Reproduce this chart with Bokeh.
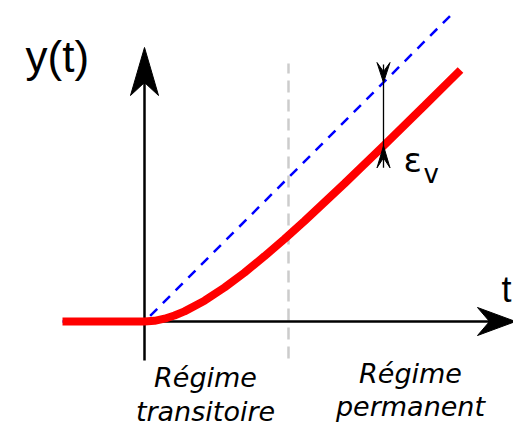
from bokeh.plotting import figure
from bokeh.models import Range1d, Label
from bokeh.embed import file_html
from bokeh.resources import INLINE
import numpy as np

# ---- data (units: t horizontal, y vertical; origin at axes crossing) ----
ramp_t = [-82, 0, 308]
ramp_y = [0, 0, 308]

resp_t = [-82, 0, 10, 20, 30, 40, 60, 80, 100, 120, 140, 160, 200, 240, 280, 316]
resp_y = [0, 0, 0.7, 2.8, 6.0, 10.1, 20.8, 34.0, 48.9, 65.3, 82.5, 100.5, 138.0, 176.6, 215.9, 251.5]

t_boundary = 144          # separation transitoire / permanent
boundary_y = [-37, 258]
t_err = 239               # position of the epsilon_v marker
y_axis_extent = [-39, 274]
t_axis_extent = [-1, 371]

labels_transitoire = ["Régime", "transitoire"]
labels_permanent = ["Régime", "permanent"]

p = figure(width=513, height=427, x_range=Range1d(-144, 369), y_range=Range1d(-106, 321),
           output_backend="svg", toolbar_location=None, min_border=0,
           x_axis_location=None, y_axis_location=None)
p.grid.visible = False
p.outline_line_color = None
p.background_fill_color = "white"
p.border_fill_color = "white"


def stealth(tx, ty, dx, dy, length, half_w, notch):
    # tip at (tx,ty), direction (dx,dy) unit vector pointing from base to tip
    nx, ny = -dy, dx
    bx, by = tx - dx * length, ty - dy * length
    cx, cy = tx - dx * notch, ty - dy * notch
    xs = [tx, bx + nx * half_w, cx, bx - nx * half_w]
    ys = [ty, by + ny * half_w, cy, by - ny * half_w]
    return xs, ys


# boundary between regimes
p.line([t_boundary, t_boundary], boundary_y, line_color="#cccccc", line_width=2.5, line_dash="12 7")

# axes
p.line([0, 0], [y_axis_extent[0], y_axis_extent[1] - 30], line_color="black", line_width=2.5)
p.line([t_axis_extent[0], t_axis_extent[1] - 25], [0, 0], line_color="black", line_width=2.5)
xs, ys = stealth(0, y_axis_extent[1], 0, 1, 48, 14, 35)
p.patch(xs, ys, fill_color="black", line_color="black", line_width=1)
xs, ys = stealth(t_axis_extent[1], 0, 1, 0, 38, 14, 26)
p.patch(xs, ys, fill_color="black", line_color="black", line_width=1)

# input ramp and response
p.line(ramp_t, ramp_y, line_color="#0000ff", line_width=2.5, line_dash="10 8")
p.line(resp_t, resp_y, line_color="#ff0000", line_width=8, line_cap="butt")

# epsilon_v marker
y_top = float(np.interp(t_err, ramp_t, ramp_y))
y_bot = float(np.interp(t_err, resp_t, resp_y))
p.line([t_err, t_err], [y_top + 18, y_bot - 22], line_color="black", line_width=1.3)
xs, ys = stealth(t_err, y_top, 0, -1, 20, 6.5, 11)
p.patch(xs, ys, fill_color="black", line_color="black", line_width=1)
xs, ys = stealth(t_err, y_bot, 0, 1, 22, 6.5, 12)
p.patch(xs, ys, fill_color="black", line_color="black", line_width=1)

# texts
p.add_layout(Label(x=-119, y=265, text="y(t)", text_font="Liberation Sans", text_font_size="44px",
                   text_color="black", text_baseline="alphabetic", text_align="left"))
p.add_layout(Label(x=357, y=32, text="t", text_font="Liberation Sans", text_font_size="36px",
                   text_color="black", text_baseline="alphabetic", text_align="left"))
p.add_layout(Label(x=259, y=162, text="ε", text_font="DejaVu Sans", text_font_size="34px",
                   text_color="black", text_baseline="alphabetic", text_align="left"))
p.add_layout(Label(x=279, y=148, text="v", text_font="DejaVu Sans", text_font_size="26px",
                   text_color="black", text_baseline="alphabetic", text_align="left"))

for txt, yy in zip(labels_transitoire, [-56, -90]):
    p.add_layout(Label(x=61, y=yy, text=txt, text_font="DejaVu Sans", text_font_style="italic",
                       text_font_size="27px", text_color="black", text_baseline="alphabetic",
                       text_align="center"))
for txt, yy in zip(labels_permanent, [-52, -85]):
    p.add_layout(Label(x=266, y=yy, text=txt, text_font="DejaVu Sans", text_font_style="italic",
                       text_font_size="27px", text_color="black", text_baseline="alphabetic",
                       text_align="center"))

html = file_html(p, INLINE)
html = html.replace("</head>", "<style>html,body{margin:0;padding:0;overflow:hidden}</style></head>", 1)
open("out.html", "w").write(html)
